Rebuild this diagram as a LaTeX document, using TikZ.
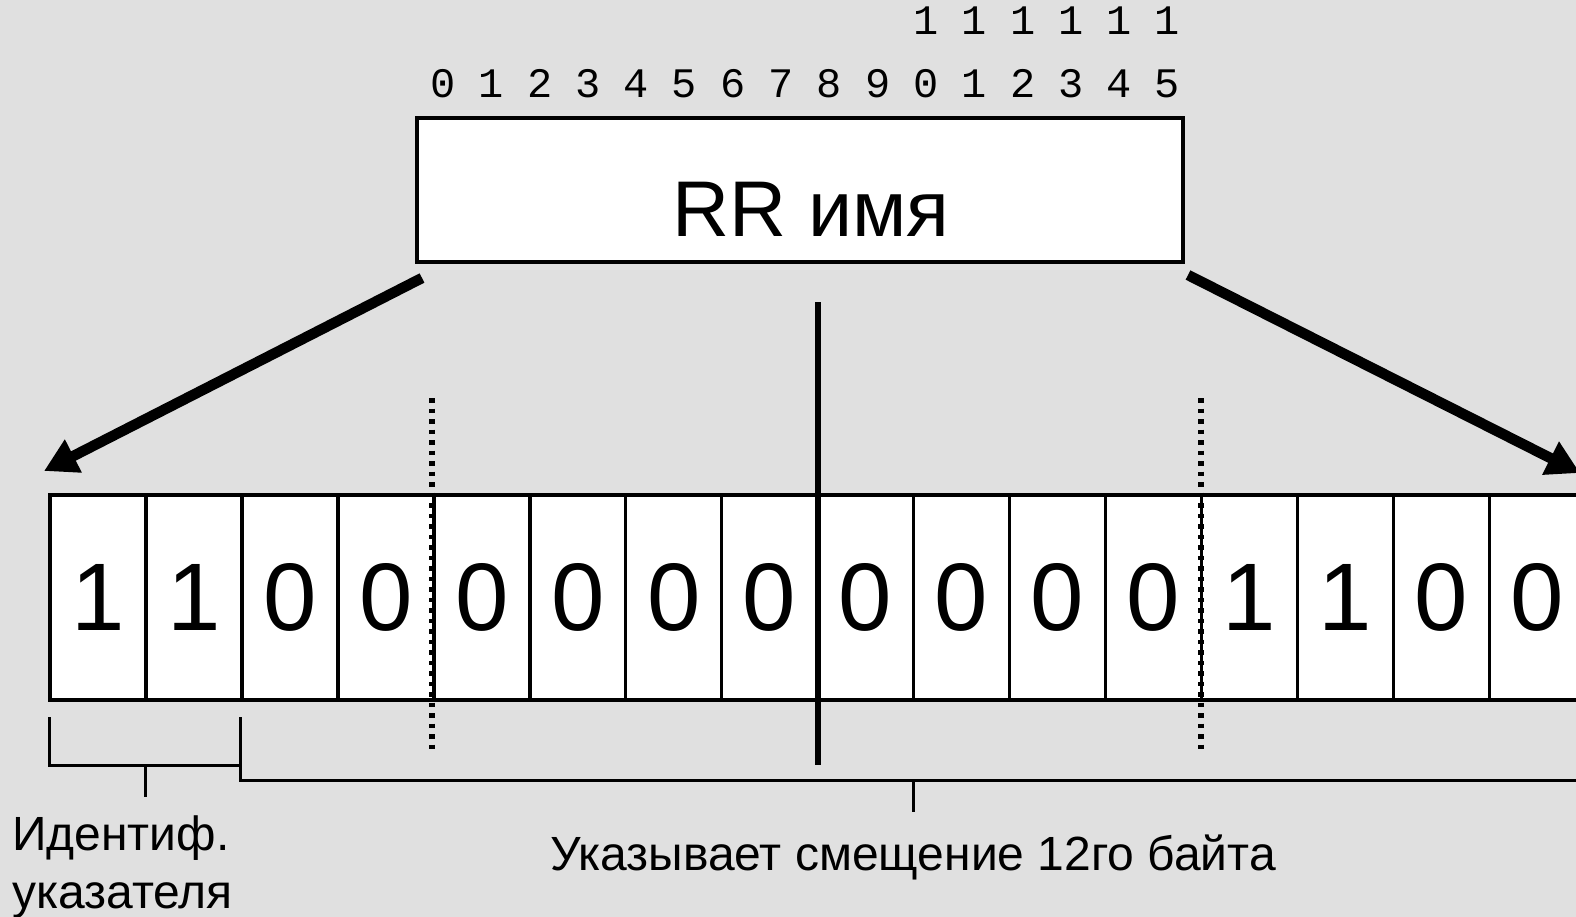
\documentclass[tikz,border=0pt]{standalone}
\usepackage{fontspec}
\setmainfont{Liberation Sans}
\newfontfamily\monof{Liberation Mono}
\usetikzlibrary{arrows.meta}
\definecolor{bg}{RGB}{224,224,224}
\begin{document}
\begin{tikzpicture}[x=1pt,y=-1pt,
  cell/.style={draw=black, line width=3.5pt, fill=white, minimum width=95.95pt, minimum height=205pt, inner sep=0pt, font=\fontsize{96}{100}\selectfont},
  bitnum/.style={anchor=base, font=\monof\fontsize{42}{46}\selectfont},
  bigarrow/.style={line width=10.5pt, -{Triangle[length=33pt,width=35pt]}},
  dotline/.style={line width=5.5pt, dash pattern=on 4.5pt off 6pt},
  midline/.style={line width=6pt},
  brace/.style={line width=3pt},
  lbl/.style={font=\fontsize{48}{56}\selectfont}
]
\path[use as bounding box, fill=bg] (0,0) rectangle (1576,917);
\clip (0,0) rectangle (1576,917);

% bit numbers
\foreach \d [count=\i from 0] in {0,1,2,3,4,5,6,7,8,9,0,1,2,3,4,5}
  \node[bitnum] (n\i) at ({443+\i*48.3},98) {\d};
\foreach \i in {10,...,15}
  \node[bitnum] (t\i) at ({443+\i*48.3},35) {1};

% RR name box
\node[draw=black, line width=3.5pt, fill=white, minimum width=766pt, minimum height=144pt, inner sep=0pt] (rr) at (800,190) {};
\node[anchor=base, font=\fontsize{79}{84}\selectfont] (rrtext) at (811,237) {RR имя};

% cells
\foreach \b [count=\i from 0] in {1,1,0,0,0,0,0,0,0,0,0,0,1,1,0,0}
  \node[cell] (c\i) at ({98+\i*95.95},597.5) {\b};

% arrows
\coordinate (al) at (422,278);
\coordinate (ar) at (1188,275);
\coordinate (tl) at (44,471);
\coordinate (tr) at (1580,473);
\draw[bigarrow] (al) -- (tl);
\draw[bigarrow] (ar) -- (tr);

% vertical lines
\coordinate (mtop) at (818,302);
\coordinate (mbot) at (818,765);
\draw[midline] (mtop) -- (mbot);
\coordinate (d1t) at (432,398);
\coordinate (d1b) at (432,753);
\coordinate (d2t) at (1201,398);
\coordinate (d2b) at (1201,753);
\draw[dotline] (d1t) -- (d1b);
\draw[dotline] (d2t) -- (d2b);

% brackets
\coordinate (b1a) at (49,717);
\coordinate (b1b) at (240,765);
\coordinate (b1m) at (145,765);
\coordinate (b1t) at (145,797);
\draw[brace] (b1a) |- (b1b) -- (240,717);
\coordinate (b2a) at (240,765);
\coordinate (b2b) at (1580,780);
\coordinate (b2m) at (913,780);
\coordinate (b2t) at (913,812);
\draw[brace] (b2a) |- (b2b);
\draw[brace] (b1m) -- (b1t);
\draw[brace] (b2m) -- (b2t);

% labels
\node[lbl, anchor=base west, inner sep=0pt] (id1) at (12,850) {Идентиф.};
\node[lbl, anchor=base west, inner sep=0pt] (id2) at (12,908) {указателя};
\node[lbl, anchor=base, inner sep=0pt] (off) at (913,870) {Указывает смещение 12го байта};
\end{tikzpicture}
\end{document}
